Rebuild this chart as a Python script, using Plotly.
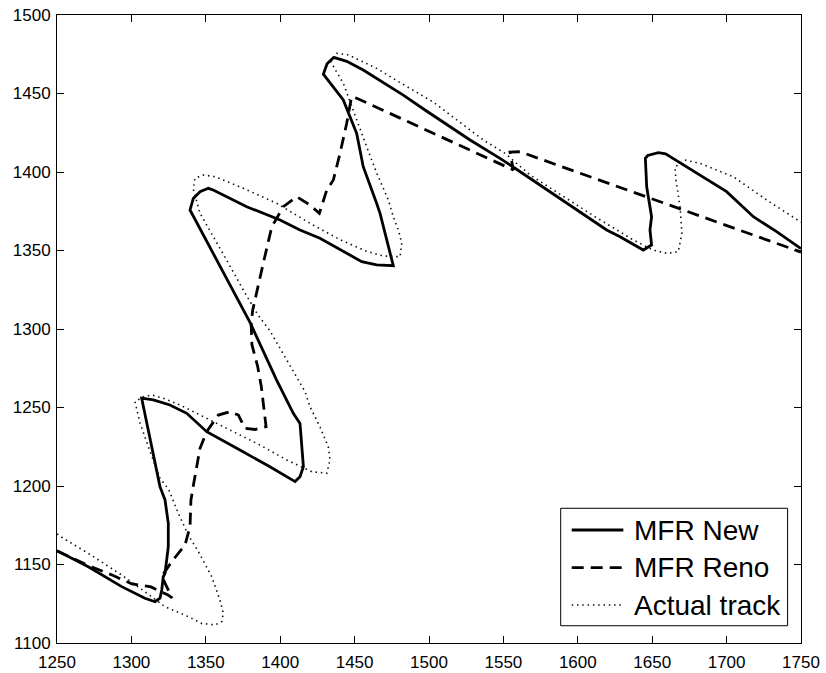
import plotly.graph_objects as go

# ---- track data (x, y positions) ----
new_x = [1250, 1271, 1293.5, 1309.1, 1315.9, 1319.2, 1320.4, 1321.4, 1322.6, 1324.8, 1324.8,
         1322.6, 1319.2, 1315.9, 1312.5, 1309.1, 1306.9, 1314.7, 1325.9, 1337.2, 1350.6,
         1370.8, 1393.1, 1410, 1413.3, 1415.6, 1414.4, 1413.3, 1408.8, 1397.6, 1379.7,
         1341.6, 1339.4, 1341.6, 1346.1, 1351.7, 1355, 1377.5, 1399.9, 1413.3, 1426.7,
         1454.8, 1464.8, 1476, 1467.1, 1464.8, 1455.8, 1451.4, 1442.4, 1429, 1431.5, 1436,
         1444.7, 1455.8, 1464.8, 1482.7, 1497.3, 1527.6, 1547.7, 1557.8, 1619.4, 1628.4,
         1644, 1649.6, 1648.5, 1649.6, 1646.3, 1645.4, 1647, 1654.1, 1659, 1682.1, 1700,
         1718, 1733.6, 1750]
new_y = [1158.8, 1148.6, 1135.9, 1128.5, 1126.3, 1128.5, 1133.8, 1142.2, 1144.4, 1161.3, 1176.2,
         1191.1, 1199.6, 1214.5, 1229.3, 1246.3, 1255.9, 1254.8, 1251.6, 1246.3, 1234.6,
         1224, 1212.3, 1202.8, 1205.9, 1212.3, 1225, 1239.9, 1246.3, 1267.5, 1304.2,
         1372.6, 1375.8, 1383.2, 1387.4, 1389.6, 1388.5, 1377.9, 1369.4, 1363.1, 1357.8,
         1342.9, 1340.8, 1340.3, 1373.7, 1380.1, 1403.4, 1424.6, 1445.9, 1462.3, 1469, 1473,
         1470.5, 1465, 1459.7, 1449, 1439.5, 1420.4, 1408.7, 1402.4, 1363.1, 1358.8,
         1350.3, 1353.5, 1363.1, 1371.5, 1390.6, 1408.7, 1410.5, 1412.3, 1411.6, 1398.1, 1387.5,
         1371.5, 1362, 1351.2]

reno_x = [1250, 1260.1, 1273.5, 1287, 1300.4, 1313.2, 1324.6, 1327.3, 1320.4, 1327.1, 1336,
          1339.4, 1340, 1341.6, 1346.1, 1350.6, 1358.4, 1366.3, 1371.9, 1376.3, 1383.1,
          1390.5, 1387.3, 1384.9, 1381, 1380.5, 1381.5, 1388.6, 1394.3, 1402.1, 1411.1,
          1420, 1426.3, 1431.3, 1435.7, 1440.2, 1444.7, 1448, 1451.4, 1556.7, 1554.4,
          1561.2, 1750]
reno_y = [1158.6, 1154.1, 1148.4, 1143.3, 1137.6, 1135.7, 1130.6, 1128.7, 1142.5, 1151.8, 1162.4,
          1174.1, 1191, 1200.1, 1224, 1234.6, 1245.2, 1247.3, 1245.2, 1236.7, 1236,
          1237.8, 1263.3, 1276, 1290, 1303, 1312, 1341.8, 1365, 1377.9, 1384.3,
          1379, 1373.7, 1388.5, 1394.9, 1411.9, 1431, 1448, 1447, 1401.3, 1412.7,
          1412.9, 1349]

actual_x = [1250, 1254.2, 1271, 1293.5, 1313.6, 1322.6, 1338.2, 1347.2, 1356.2, 1360.7, 1361.8,
            1359.5, 1354, 1345, 1338.2, 1331.5, 1325, 1319.2, 1311.4, 1305.8, 1302.4,
            1308, 1313.6, 1321.4, 1332.7, 1343.8, 1357.3, 1370.8, 1386.4, 1404.4, 1421.2,
            1431.3, 1433.5, 1432.3, 1426.7, 1420, 1416.7, 1407, 1393, 1385, 1375.2,
            1364, 1352.8, 1346.1, 1341.6, 1342.7, 1348.3, 1356.2, 1375.2, 1397.6, 1420,
            1440, 1458, 1469.3, 1480.5, 1481.7, 1479.4, 1476, 1472.7, 1464.9, 1458.1,
            1449.1, 1442.4, 1434.1, 1438, 1446, 1464.8, 1480.5, 1502.9, 1536.5, 1551.1,
            1567.9, 1590.3, 1611.6, 1637.3, 1650.7, 1659.7, 1667.5, 1670, 1668.7, 1666,
            1665.3, 1672, 1682.1, 1704.5, 1726.9, 1750]
actual_y = [1169.5, 1166.7, 1157.1, 1143.3, 1129.5, 1123.1, 1116.8, 1112.5, 1111.5, 1113.6, 1118.9,
            1127.4, 1142.2, 1158.2, 1168.8, 1182.6, 1198, 1205, 1225, 1240, 1253.7,
            1256.9, 1258, 1255.9, 1251.6, 1246.3, 1240, 1233.6, 1226.1, 1216.6, 1209.1,
            1208.1, 1216.6, 1225, 1237.8, 1250.5, 1260.1, 1276, 1299, 1309, 1324.8,
            1343.9, 1363, 1373.7, 1389, 1396, 1398.1, 1397, 1389.6, 1380.1, 1367.3,
            1357, 1349.5, 1346.5, 1346, 1354.6, 1363.1, 1371.5, 1382.2, 1399.2, 1416.1,
            1439.5, 1456.5, 1470, 1475.6, 1474.5, 1466, 1457, 1444.5, 1420.4, 1411.9,
            1398.1, 1384.3, 1371.5, 1356.7, 1350.3, 1348.2, 1349.2, 1361, 1377.9, 1394.9,
            1403.2, 1407.6, 1405.5, 1397, 1382.2, 1368]

x_ticks = [1250, 1300, 1350, 1400, 1450, 1500, 1550, 1600, 1650, 1700, 1750]
y_ticks = [1100, 1150, 1200, 1250, 1300, 1350, 1400, 1450, 1500]

series_names = ["MFR New", "MFR Reno", "Actual track"]

FONT = "Liberation Sans, Arial, Helvetica, sans-serif"

styles = [
    dict(color="black", width=2.8, dash="solid"),
    dict(color="black", width=2.8, dash="12px,7px"),
    dict(color="#111111", width=1.6, dash="1.5px,3.8px"),
]

fig = go.Figure()
for name, xs, ys, st in zip(series_names,
                            [new_x, reno_x, actual_x],
                            [new_y, reno_y, actual_y],
                            styles):
    fig.add_trace(go.Scatter(x=xs, y=ys, mode="lines", name=name,
                             line=st, showlegend=False))

# legend box drawn in paper coordinates
L = dict(x0=0.677, x1=0.982, y0=0.0275, y1=0.2145)
fig.add_shape(type="rect", xref="paper", yref="paper", **L,
              line=dict(color="black", width=1), fillcolor="white", layer="above")
rows = [0.1799, 0.1199, 0.0605]
for name, st, yy in zip(series_names, styles, rows):
    fig.add_shape(type="line", xref="paper", yref="paper",
                  x0=0.6918, x1=0.7612, y0=yy, y1=yy,
                  line=dict(color=st["color"], width=st["width"], dash=st["dash"]),
                  layer="above")
    fig.add_annotation(x=0.7724, y=yy, xref="paper", yref="paper",
                       text=name, showarrow=False, xanchor="left", yanchor="middle",
                       font=dict(family=FONT, size=28, color="black"))

axis_common = dict(
    showgrid=False, zeroline=False, showline=True, linecolor="black", linewidth=1,
    mirror="ticks", ticks="inside", ticklen=7, tickcolor="black", tickwidth=1,
    tickfont=dict(family=FONT, size=17, color="black"), automargin=False,
)

fig.update_layout(
    width=826, height=673,
    margin=dict(l=57, r=25, t=15, b=30, autoexpand=False),
    paper_bgcolor="white", plot_bgcolor="white",
    xaxis=dict(range=[1250, 1750], tickvals=x_ticks, ticklabelstandoff=4, **axis_common),
    yaxis=dict(range=[1100, 1500], tickvals=y_ticks, ticklabelstandoff=2, **axis_common),
)

fig.write_html("out.html")
